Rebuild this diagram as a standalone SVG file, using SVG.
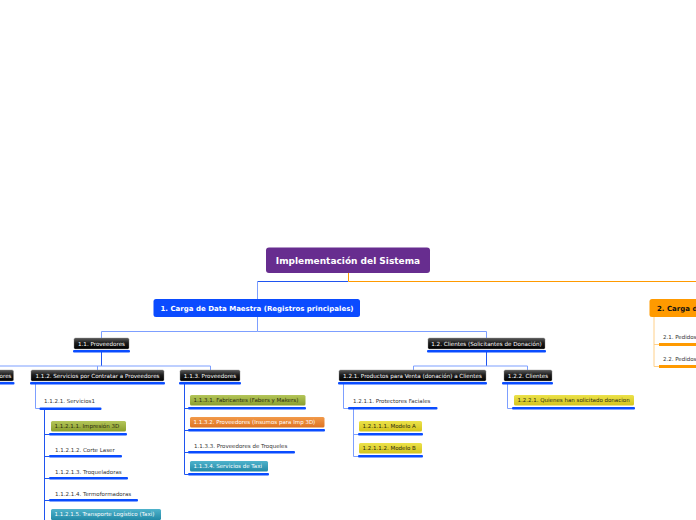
<svg xmlns="http://www.w3.org/2000/svg" width="696" height="520" viewBox="0 0 696 520">
<defs>
<linearGradient id="gBlk" x1="0" y1="0" x2="0" y2="1"><stop offset="0" stop-color="#5a5a5a"/><stop offset="0.45" stop-color="#1c1c1c"/><stop offset="1" stop-color="#000"/></linearGradient>
<linearGradient id="gGreen" x1="0" y1="0" x2="0" y2="1"><stop offset="0" stop-color="#b4c65a"/><stop offset="1" stop-color="#8a9e2c"/></linearGradient>
<linearGradient id="gOrange" x1="0" y1="0" x2="0" y2="1"><stop offset="0" stop-color="#f29a4a"/><stop offset="1" stop-color="#de7322"/></linearGradient>
<linearGradient id="gTeal" x1="0" y1="0" x2="0" y2="1"><stop offset="0" stop-color="#4fb3cc"/><stop offset="1" stop-color="#2289a6"/></linearGradient>
<linearGradient id="gYellow" x1="0" y1="0" x2="0" y2="1"><stop offset="0" stop-color="#ece24a"/><stop offset="1" stop-color="#d4c41c"/></linearGradient>
</defs>
<style>
text{font-family:"DejaVu Sans","Liberation Sans",sans-serif;}
.root{fill:#672d8f;}
.rootT{fill:#fff;font-size:9px;font-weight:bold;}
.n1{fill:#0b4bff;}
.n1T{fill:#fff;font-size:7px;font-weight:bold;}
.n2{fill:#ff9a00;}
.n2T{fill:#111;font-size:7px;font-weight:bold;}
.blk{fill:url(#gBlk);stroke:#8a8a8a;stroke-width:0.4;}
.blkT{fill:#fff;font-size:5.6px;}
.grn{fill:url(#gGreen);}
.org{fill:url(#gOrange);}
.tea{fill:url(#gTeal);}
.yel{fill:url(#gYellow);}
.dT{fill:#2a2a10;font-size:5.5px;}
.wT{fill:#fff;font-size:5.5px;}
.pT{fill:#333;font-size:5.5px;}
.bar{fill:#0a4cff;}
.obar{fill:#ff9a00;}
.lb{fill:none;stroke:#7d9fff;stroke-width:1;}
.db{fill:none;stroke:#1f55f0;stroke-width:1;}
.lo{fill:none;stroke:#ff9a00;stroke-width:1;}
.llo{fill:none;stroke:#ffd08a;stroke-width:1;}
</style>
<g id="connectors">
<path class="lo" d="M348.5 273 V281.5 H696"/>
<path class="db" d="M348 281.5 H257.5"/>
<path class="lb" d="M257.5 281.5 V299"/>
<path class="lb" d="M257.5 317 V331.5 H486.5 V338"/>
<path class="lb" d="M101.5 331.5 H257.5"/>
<path class="lb" d="M101.5 331.5 V338"/>
<path class="db" d="M101.5 352 V366"/>
<path class="lb" d="M0 366 H210.5 V370"/>
<path class="lb" d="M97.5 366 V370"/>
<path class="lb" d="M35.5 384 V408.5 H40"/>
<path class="db" d="M44.5 409 V520"/>
<path class="db" d="M44.5 434.5 H49 M44.5 456.5 H49 M44.5 478.5 H49 M44.5 500.5 H49"/>
<path class="db" d="M184.5 384 V474.5 H188 M184.5 408.5 H188 M184.5 430.5 H188 M184.5 452.5 H188"/>
<path class="db" d="M486.5 352 V366"/>
<path class="lb" d="M413.5 366 H527.5 V370 M413.5 366 V370"/>
<path class="lb" d="M343.5 384 V408.5 H348"/>
<path class="lb" d="M353.5 409 V456.5 H358 M353.5 434.5 H358"/>
<path class="lb" d="M507.5 384 V408.5 H512"/>
<path class="llo" d="M654 317 V366.5 H659 M654 344.5 H659"/>
</g>
<g id="root"><rect class="root" x="266" y="247.5" width="164" height="25.5" rx="3"/><text class="rootT" x="348" y="264.3" text-anchor="middle">Implementación del Sistema</text></g>
<g id="n1"><rect class="n1" x="153.5" y="299" width="206.5" height="18" rx="2.5"/><text class="n1T" x="257" y="310.8" text-anchor="middle">1. Carga de Data Maestra (Registros principales)</text></g>
<g id="n2"><rect class="n2" x="649.5" y="299" width="60" height="18" rx="2.5"/><text class="n2T" x="657" y="310.8">2. Carga de</text></g>
<g id="n2-1"><text class="pT" x="663" y="339">2.1. Pedidos</text><rect class="obar" x="659" y="343" width="40" height="3"/></g>
<g id="n2-2"><text class="pT" x="663" y="360.5">2.2. Pedidos</text><rect class="obar" x="659" y="365" width="40" height="3"/></g>
<g id="n1-1"><rect class="blk" x="74" y="338" width="55" height="11" rx="1.5"/><text class="blkT" x="101.5" y="345.6" text-anchor="middle">1.1. Proveedores</text><rect class="bar" x="73" y="350" width="57" height="2.5" rx="1"/></g>
<g id="n1-1-1"><rect class="blk" x="-40" y="370" width="53.5" height="11" rx="1.5"/><text class="blkT" x="11.5" y="377.6" text-anchor="end">Proveedores</text><rect class="bar" x="-40" y="382" width="54.5" height="2.5" rx="1"/></g>
<g id="n1-1-2"><rect class="blk" x="31" y="370" width="133" height="11" rx="1.5"/><text class="blkT" x="97.5" y="377.6" text-anchor="middle">1.1.2. Servicios por Contratar a Proveedores</text><rect class="bar" x="30" y="382" width="135" height="2.5" rx="1"/></g>
<g id="n1-1-3"><rect class="blk" x="180" y="370" width="60" height="11" rx="1.5"/><text class="blkT" x="210" y="377.6" text-anchor="middle">1.1.3. Proveedores</text><rect class="bar" x="179" y="382" width="62" height="2.5" rx="1"/></g>
<g id="n1-1-2-1"><text class="pT" x="44" y="402.5">1.1.2.1. Servicios1</text><rect class="bar" x="39.5" y="407.5" width="62" height="2.5" rx="1"/></g>
<g id="n1-1-2-1-1"><rect class="grn" x="51" y="421" width="75" height="10.5" rx="1.5"/><text class="dT" x="54.5" y="428.3">1.1.2.1.1. Impresión 3D</text><rect class="bar" x="49" y="433" width="78" height="2.5" rx="1"/></g>
<g id="n1-1-2-1-2"><text class="pT" x="55" y="451.5">1.1.2.1.2. Corte Laser</text><rect class="bar" x="49" y="455" width="73" height="2.5" rx="1"/></g>
<g id="n1-1-2-1-3"><text class="pT" x="55" y="473.5">1.1.2.1.3. Troqueladoras</text><rect class="bar" x="49" y="477" width="79" height="2.5" rx="1"/></g>
<g id="n1-1-2-1-4"><text class="pT" x="55" y="495.5">1.1.2.1.4. Termoformadoras</text><rect class="bar" x="49" y="499" width="89" height="2.5" rx="1"/></g>
<g id="n1-1-2-1-5"><rect class="tea" x="51" y="509" width="110" height="11" rx="1.5"/><text class="wT" x="54.5" y="516.4">1.1.2.1.5. Transporte Logístico (Taxi)</text></g>
<g id="n1-1-3-1"><rect class="grn" x="190" y="395" width="115.5" height="10.5" rx="1.5"/><text class="dT" x="193.5" y="402.3">1.1.3.1. Fabricantes (Fabers y Makers)</text><rect class="bar" x="188" y="407" width="118" height="2.5" rx="1"/></g>
<g id="n1-1-3-2"><rect class="org" x="190" y="417" width="134.5" height="10.5" rx="1.5"/><text class="wT" x="193.5" y="424.3">1.1.3.2. Proveedores (Insumos para Imp 3D)</text><rect class="bar" x="188" y="429" width="137" height="2.5" rx="1"/></g>
<g id="n1-1-3-3"><text class="pT" x="194" y="447.5">1.1.3.3. Proveedores de Troqueles</text><rect class="bar" x="188" y="451" width="107" height="2.5" rx="1"/></g>
<g id="n1-1-3-4"><rect class="tea" x="190" y="461" width="78" height="10.5" rx="1.5"/><text class="wT" x="193.5" y="468.3">1.1.3.4. Servicios de Taxi</text><rect class="bar" x="188" y="473" width="81" height="2.5" rx="1"/></g>
<g id="n1-2"><rect class="blk" x="428" y="338" width="117" height="11" rx="1.5"/><text class="blkT" x="486.5" y="345.6" text-anchor="middle">1.2. Clientes (Solicitantes de Donación)</text><rect class="bar" x="427" y="350" width="119" height="2.5" rx="1"/></g>
<g id="n1-2-1"><rect class="blk" x="339" y="370" width="147" height="11" rx="1.5"/><text class="blkT" x="412.5" y="377.6" text-anchor="middle">1.2.1. Productos para Venta (donación) a Clientes</text><rect class="bar" x="338" y="382" width="149" height="2.5" rx="1"/></g>
<g id="n1-2-2"><rect class="blk" x="504" y="370" width="48" height="11" rx="1.5"/><text class="blkT" x="528" y="377.6" text-anchor="middle">1.2.2. Clientes</text><rect class="bar" x="502" y="382" width="51" height="2.5" rx="1"/></g>
<g id="n1-2-1-1"><text class="pT" x="353" y="402.5">1.2.1.1. Protectores Faciales</text><rect class="bar" x="348" y="407" width="89.5" height="2.5" rx="1"/></g>
<g id="n1-2-1-1-1"><rect class="yel" x="359" y="421" width="63" height="10.5" rx="1.5"/><text class="dT" x="362.5" y="428.3">1.2.1.1.1. Modelo A</text><rect class="bar" x="358" y="433" width="65" height="2.5" rx="1"/></g>
<g id="n1-2-1-1-2"><rect class="yel" x="359" y="443" width="63" height="10.5" rx="1.5"/><text class="dT" x="362.5" y="450.3">1.2.1.1.2. Modelo B</text><rect class="bar" x="358" y="455" width="65" height="2.5" rx="1"/></g>
<g id="n1-2-2-1"><rect class="yel" x="514" y="395" width="120" height="10.5" rx="1.5"/><text class="dT" x="517.5" y="402.3">1.2.2.1. Quienes han solicitado donacion</text><rect class="bar" x="512" y="407" width="123" height="2.5" rx="1"/></g>
</svg>
